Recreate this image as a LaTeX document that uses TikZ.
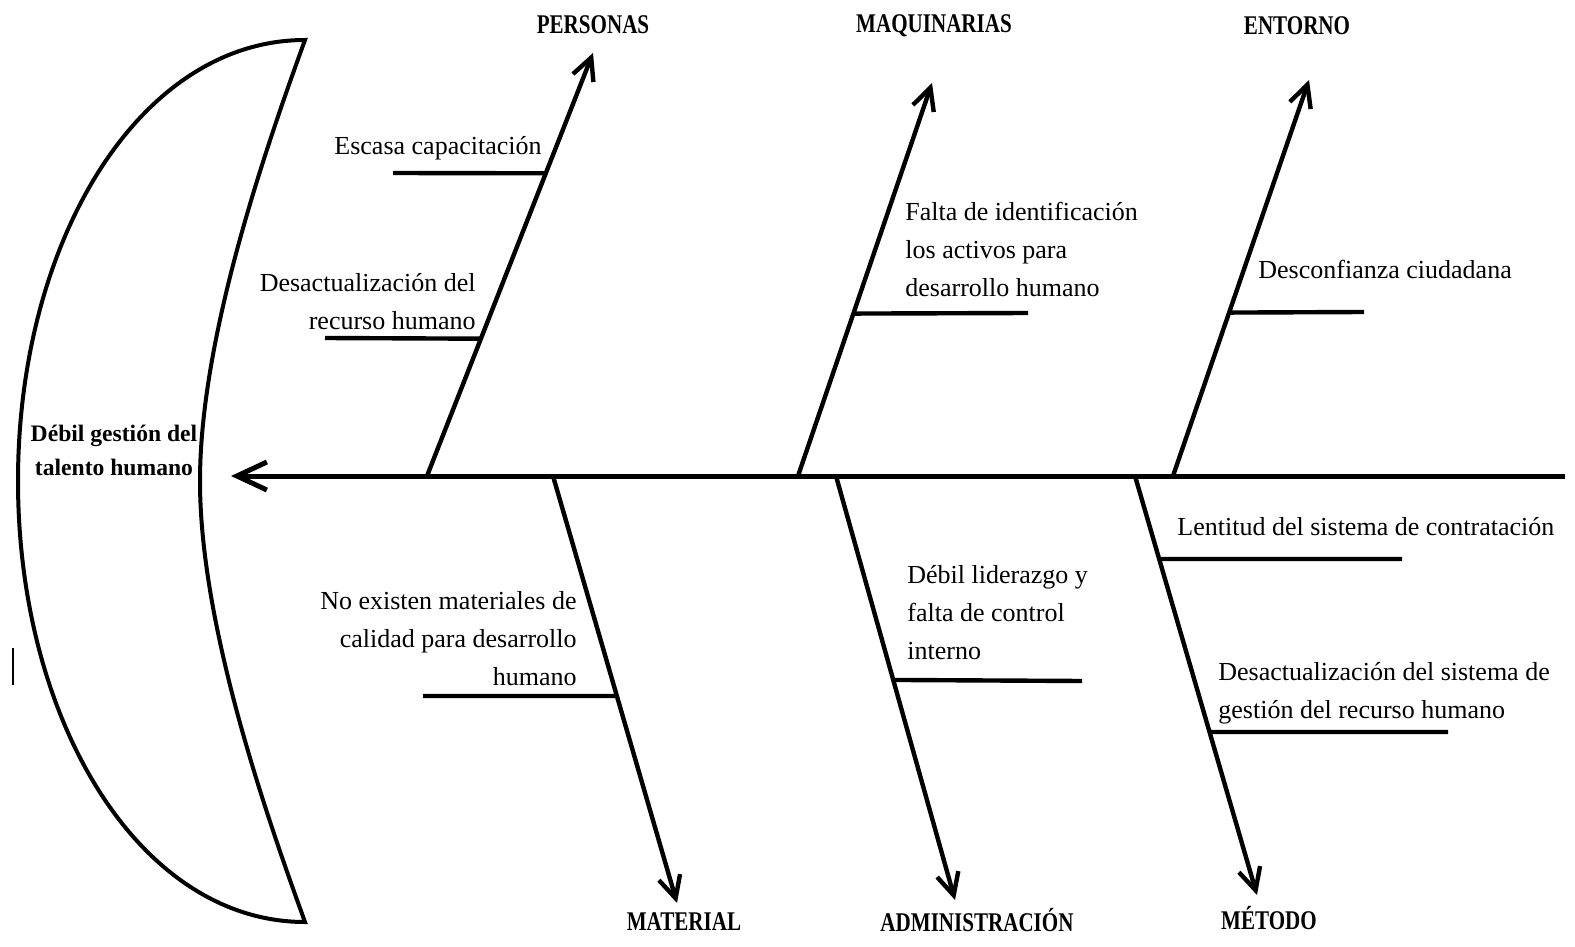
\documentclass[tikz,border=0pt]{standalone}
\usepackage{fontspec}
\usepackage{graphicx}
\setmainfont{Liberation Serif}
\usetikzlibrary{arrows.meta,calc}
\begin{document}
\begin{tikzpicture}[x=0.5pt,y=-0.5pt,
  ln/.style={line width=2pt},
  uline/.style={line width=2.2pt},
  br/.style={line width=2.2pt,-{Straight Barb[length=11pt,width=11pt]}},
  spinest/.style={line width=2.5pt,-{Straight Barb[length=15pt,width=14pt]}},
  cause/.style={inner sep=0pt,font=\fontsize{13pt}{19pt}\selectfont},
  head/.style={inner sep=0pt,font=\fontsize{13.5pt}{15pt}\selectfont\bfseries},
  effect/.style={inner sep=0pt,align=center,font=\fontsize{11.8pt}{17pt}\selectfont\bfseries}]
\useasboundingbox (0,0) rectangle (1575,947);

% crescent (head of the fish)
\draw[ln,line join=miter] (305,40) .. controls (140,40) and (18,240) .. (18,481)
  .. controls (18,722) and (140,922) .. (305,922)
  .. controls (265,812) and (200,624) .. (200,481)
  .. controls (200,338) and (265,150) .. cycle;
\draw[line width=1pt] (13,648) -- (13,685);
\node[effect] (eff) at (114,450) {Débil gestión del\\talento humano};

% spine
\coordinate (spS) at (1565,476);
\coordinate (spE) at (231,476);
\draw[spinest] (spS) -- (spE);

% branch coordinates
\coordinate (ps) at (427,476); \coordinate (pe) at (593,53);
\coordinate (ms) at (798,476); \coordinate (me) at (932,83);
\coordinate (es) at (1173,476); \coordinate (ee) at (1309,80);
\coordinate (mas) at (553,476); \coordinate (mae) at (677,903);
\coordinate (as) at (836,476); \coordinate (ae) at (955,900);
\coordinate (mes) at (1135,476); \coordinate (mee) at (1257,895);

\draw[br] (ps) -- (pe);
\draw[br] (ms) -- (me);
\draw[br] (es) -- (ee);
\draw[br] (mas) -- (mae);
\draw[br] (as) -- (ae);
\draw[br] (mes) -- (mee);

% headings
\node[head] (hper) at (593,25) {\scalebox{0.78}[1]{PERSONAS}};
\node[head] (hmaq) at (934,26) {\scalebox{0.78}[1]{MAQUINARIAS}};
\node[head] (hent) at (1297,26) {\scalebox{0.78}[1]{ENTORNO}};
\node[head] (hmat) at (684,922) {\scalebox{0.78}[1]{MATERIAL}};
\node[head] (hadm) at (977,920) {\scalebox{0.78}[1]{ADMINISTRACIÓN}};
\node[head] (hmet) at (1269,918) {\scalebox{0.78}[1]{MÉTODO}};

% causes
\node[cause,anchor=east] (c1) at (542,148) {Escasa capacitación};
\coordinate (u1) at (393,173);
\draw[uline] (u1) -- ($(ps)!0.7156!(pe)$);

\node[cause,anchor=east,align=right] (c2) at (476,302) {Desactualización del\\recurso humano};
\coordinate (u2) at (325,338);
\draw[uline] (u2) -- ($(ps)!0.3246!(pe)$);

\node[cause,anchor=west,align=left] (c3) at (905,249) {Falta de identificación\\los activos para\\desarrollo humano};
\coordinate (u3) at (1028,313);
\draw[uline] ($(ms)!0.4133!(me)$) -- (u3);

\node[cause,anchor=west] (c4) at (1258,269) {Desconfianza ciudadana};
\coordinate (u4) at (1364,312);
\draw[uline] ($(es)!0.4127!(ee)$) -- (u4);

\node[cause,anchor=east,align=right] (c5) at (577,639) {No existen materiales de\\calidad para desarrollo\\humano};
\coordinate (u5) at (423,696);
\draw[uline] (u5) -- ($(mas)!0.5152!(mae)$);

\node[cause,anchor=west,align=left] (c6) at (907,613) {Débil liderazgo y\\falta de control\\interno};
\coordinate (u6) at (1082,681);
\draw[uline] ($(as)!0.481!(ae)$) -- (u6);

\node[cause,anchor=west] (c7) at (1177,527) {Lentitud del sistema de contratación};
\coordinate (u7) at (1402,559);
\draw[uline] ($(mes)!0.198!(mee)$) -- (u7);

\node[cause,anchor=west,align=left] (c8) at (1218,693) {Desactualización del sistema de\\gestión del recurso humano};
\coordinate (u8) at (1448,732);
\draw[uline] ($(mes)!0.611!(mee)$) -- (u8);
\end{tikzpicture}
\end{document}
